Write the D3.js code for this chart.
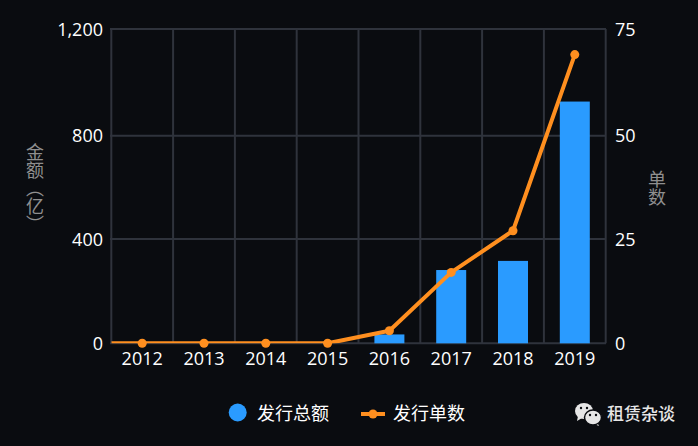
<!DOCTYPE html>
<html>
<head>
<meta charset="utf-8">
<script src="https://cdnjs.cloudflare.com/ajax/libs/d3/7.8.5/d3.min.js"></script>
<style>
html, body { margin: 0; padding: 0; background: #0a0c10; }
svg { display: block; }
text { font-family: "Noto Sans CJK SC", sans-serif; }
.num { font-family: "Open Sans", sans-serif; font-size: 18px; fill: #fff; }
</style>
</head>
<body>
<svg id="chart" width="698" height="446"></svg>
<script>
var years = ["2012", "2013", "2014", "2015", "2016", "2017", "2018", "2019"];
var amounts = [0, 0, 0, 0, 34, 281, 316, 928];
var counts = [0, 0, 0, 0, 3, 17, 27, 69];
var amountTicks = [0, 400, 800, 1200];
var countTicks = [0, 25, 50, 75];

var grid = "#2f333c", blue = "#2a9bff", orange = "#ff8f1f", grey = "#8f8f8f", bg = "#0a0c10";
var svg = d3.select("#chart");

var tickRows = [343.3, 239, 135.7, 29];
var x = d3.scaleBand().domain(years).range([111.3, 605.7]);
var yAmount = d3.scaleLinear().domain(amountTicks).range(tickRows);
var yCount = d3.scaleLinear().domain(countTicks).range(tickRows);

function cx(d){ return x(d) + x.bandwidth() / 2 }

// grid
svg.append("g").selectAll("line").data(amountTicks).join("line")
    .attr("x1", 110).attr("x2", 606)
    .attr("y1", function(d){ return yAmount(d) })
    .attr("y2", function(d){ return yAmount(d) })
    .attr("stroke", grid).attr("stroke-width", 2);

svg.append("g").selectAll("line").data(years.concat(["end"])).join("line")
    .attr("x1", function(d){ return d == "end" ? 605.7 : x(d) })
    .attr("x2", function(d){ return d == "end" ? 605.7 : x(d) })
    .attr("y1", 29).attr("y2", 343.3)
    .attr("stroke", grid).attr("stroke-width", 2);

// bars
svg.append("g").selectAll("rect").data(amounts).join("rect")
    .attr("x", function(d, i){ return cx(years[i]) - 15 })
    .attr("width", 30)
    .attr("y", function(d){ return yAmount(d) })
    .attr("height", function(d){ return yAmount(0) - yAmount(d) })
    .attr("fill", blue);

// line, the run along zero is cut off by the plot edge
svg.append("clipPath").attr("id", "plot").append("rect")
    .attr("x", 111.3).attr("y", 20).attr("width", 494.4).attr("height", 323.3);

var line = d3.line()
    .x(function(d, i){ return cx(years[i]) })
    .y(function(d){ return yCount(d) });

svg.append("line")
    .attr("clip-path", "url(#plot)")
    .attr("x1", 111.3).attr("x2", cx(years[0]))
    .attr("y1", yCount(0)).attr("y2", yCount(0))
    .attr("stroke", orange).attr("stroke-width", 4);

svg.append("path").datum(counts)
    .attr("clip-path", "url(#plot)")
    .attr("d", line).attr("fill", "none")
    .attr("stroke", orange).attr("stroke-width", 4).attr("stroke-linejoin", "round");

svg.append("g").selectAll("circle").data(counts).join("circle")
    .attr("cx", function(d, i){ return cx(years[i]) })
    .attr("cy", function(d){ return yCount(d) })
    .attr("r", 4.5).attr("fill", orange);

// tick labels
svg.append("g").selectAll("text").data(years).join("text")
    .attr("class", "num")
    .attr("x", cx).attr("y", 365).attr("text-anchor", "middle")
    .text(function(d){ return d });

svg.append("g").selectAll("text").data(amountTicks).join("text")
    .attr("class", "num")
    .attr("x", 103).attr("y", function(d){ return yAmount(d) + 6.5 })
    .attr("text-anchor", "end")
    .text(d3.format(","));

svg.append("g").selectAll("text").data(countTicks).join("text")
    .attr("class", "num")
    .attr("x", 615).attr("y", function(d){ return yCount(d) + 6.5 })
    .text(function(d){ return d });

// axis titles
svg.append("text").attr("x", 35).attr("y", 143)
    .style("writing-mode", "vertical-rl")
    .attr("fill", grey).attr("font-size", 18).text("金额（亿）");

svg.append("text").attr("x", 657).attr("y", 170)
    .style("writing-mode", "vertical-rl")
    .attr("fill", grey).attr("font-size", 18).text("单数");

// legend
svg.append("circle").attr("cx", 237.7).attr("cy", 412.5).attr("r", 9).attr("fill", blue);
svg.append("text").attr("x", 257).attr("y", 420).attr("fill", "#fff").attr("font-size", 18).text("发行总额");
svg.append("line").attr("x1", 361).attr("x2", 385).attr("y1", 414).attr("y2", 414)
    .attr("stroke", orange).attr("stroke-width", 4);
svg.append("circle").attr("cx", 373).attr("cy", 414).attr("r", 4.5).attr("fill", orange);
svg.append("text").attr("x", 393).attr("y", 420).attr("fill", "#fff").attr("font-size", 18).text("发行单数");

// watermark
var mark = svg.append("g");
mark.append("path").attr("d", "M578 416l-1 5 5-3z").attr("fill", "#e6e6e6");
mark.append("ellipse").attr("cx", 584).attr("cy", 411).attr("rx", 9).attr("ry", 8).attr("fill", "#e6e6e6");
mark.append("path").attr("d", "M597 422l2 4-5-2z").attr("fill", "#e6e6e6");
mark.append("ellipse").attr("cx", 593).attr("cy", 417.5).attr("rx", 8.5).attr("ry", 7.5)
    .attr("fill", "#e6e6e6").attr("stroke", bg).attr("stroke-width", 1.5);
mark.selectAll("circle").data([[581, 408], [587, 408], [590, 415], [596, 415]]).join("circle")
    .attr("cx", function(d){ return d[0] }).attr("cy", function(d){ return d[1] })
    .attr("r", 1.2).attr("fill", bg);
svg.append("text").attr("x", 607).attr("y", 420).attr("fill", "#e6e6e6").attr("font-size", 17).attr("font-weight", 500).text("租赁杂谈");
</script>
</body>
</html>
